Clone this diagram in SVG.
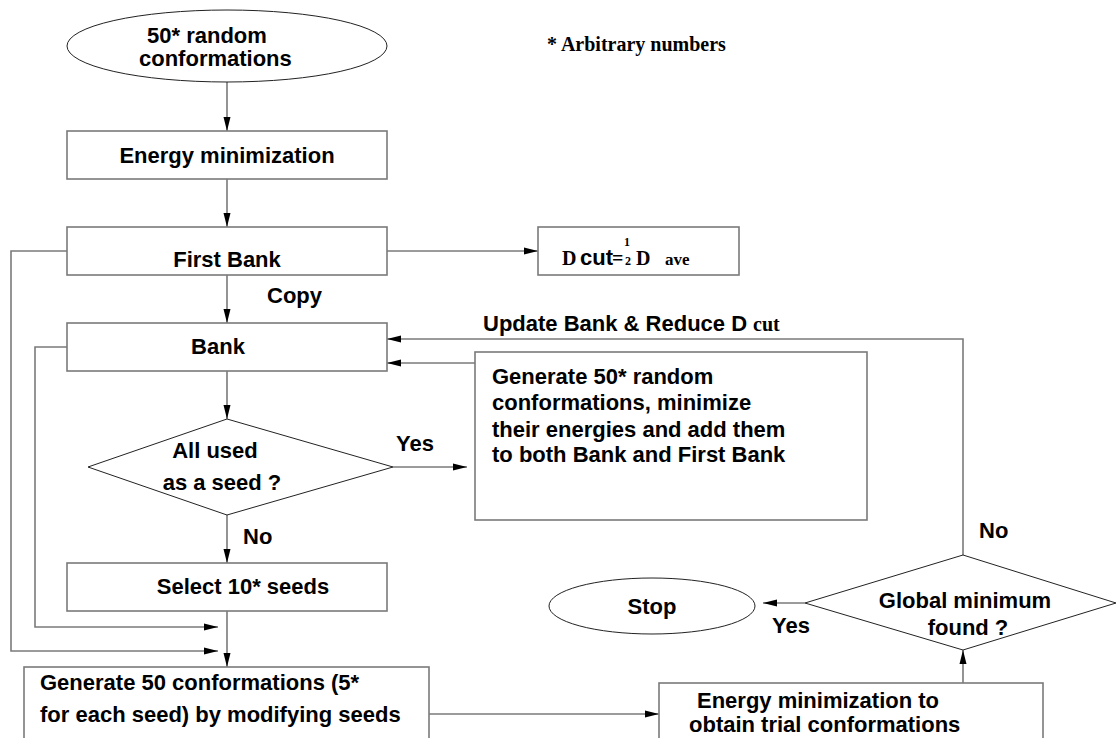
<svg xmlns="http://www.w3.org/2000/svg" width="1116" height="738" viewBox="0 0 1116 738">
<style>
.box{fill:#fff;stroke:#7a7a7a;stroke-width:1.6}
.shape{fill:#fff;stroke:#222;stroke-width:1}
.con{fill:none;stroke:#7a7a7a;stroke-width:1.6}
.t{font-family:"Liberation Sans",Arial,sans-serif;font-weight:bold;font-size:22px;fill:#000}
.s{font-family:"Liberation Serif","Times New Roman",serif;font-weight:bold;fill:#000}
</style>
<defs>
<marker id="ah" markerUnits="userSpaceOnUse" markerWidth="14" markerHeight="8" refX="14" refY="4" orient="auto">
<path d="M0,0.5 L14,4 L0,7.5 z" fill="#000"/>
</marker>
</defs>
<rect width="1116" height="738" fill="#fff"/>
<g id="connectors" class="con" marker-end="url(#ah)">
<path d="M227,82 V131"/>
<path d="M227,179 V227"/>
<path d="M227,275 V323"/>
<path d="M387,251 H538"/>
<path d="M227,371 V419"/>
<path d="M393,467 H467"/>
<path d="M227,515 V563"/>
<path d="M227,611 V667"/>
<path d="M67,251 H11 V651 H218"/>
<path d="M67,347 H35 V627 H218"/>
<path d="M429,714 H659"/>
<path d="M963,683 V650"/>
<path d="M805,603 H763"/>
<path d="M963,555 V339 H387"/>
<path d="M475,363 H387"/>
</g>
<g id="start">
<ellipse class="shape" cx="227" cy="46" rx="160" ry="36"/>
<text class="t" x="147" y="43">50* random</text>
<text class="t" x="139" y="66">conformations</text>
</g>
<g id="note"><text class="s" x="547" y="51" font-size="20">* Arbitrary numbers</text></g>
<g id="energy-min">
<rect class="box" x="67" y="131" width="320" height="48"/>
<text class="t" x="227" y="163" text-anchor="middle">Energy minimization</text>
</g>
<g id="first-bank">
<rect class="box" x="67" y="227" width="320" height="48"/>
<text class="t" x="227" y="267" text-anchor="middle">First Bank</text>
</g>
<g id="dcut">
<rect class="box" x="538" y="227" width="201" height="48"/>
<text x="562" y="265" class="s" font-size="20">D</text>
<text x="580" y="265" class="t" font-size="20">cut</text>
<text x="612" y="265" class="s" font-size="20">=</text>
<text x="624" y="246" class="s" font-size="12">1</text>
<text x="625" y="265" class="s" font-size="12">2</text>
<text x="636" y="265" class="s" font-size="20">D</text>
<text x="665" y="265" class="s" font-size="17">ave</text>
</g>
<g id="copy-label"><text class="t" x="267" y="303">Copy</text></g>
<g id="bank">
<rect class="box" x="67" y="323" width="320" height="48"/>
<text class="t" x="218" y="354" text-anchor="middle">Bank</text>
</g>
<g id="update-label">
<text class="t" x="483" y="331">Update Bank &amp; Reduce D</text>
<text class="s" x="753" y="331" font-size="20">cut</text>
</g>
<g id="generate-random">
<rect class="box" x="475" y="352" width="392" height="168"/>
<text class="t" x="492" y="384">Generate 50* random</text>
<text class="t" x="492" y="410">conformations, minimize</text>
<text class="t" x="492" y="437">their energies and add them</text>
<text class="t" x="492" y="462">to both Bank and First Bank</text>
</g>
<g id="all-used">
<polygon class="shape" points="227,419 393,467 227,515 88,467"/>
<text class="t" x="215" y="458" text-anchor="middle">All used</text>
<text class="t" x="222" y="490" text-anchor="middle">as a seed ?</text>
</g>
<g id="yes1"><text class="t" x="396" y="451">Yes</text></g>
<g id="no1"><text class="t" x="243" y="544">No</text></g>
<g id="select">
<rect class="box" x="67" y="563" width="320" height="48"/>
<text class="t" x="243" y="594" text-anchor="middle">Select 10* seeds</text>
</g>
<g id="generate-50">
<rect class="box" x="24" y="667" width="405" height="90"/>
<text class="t" x="40" y="690">Generate 50 conformations (5*</text>
<text class="t" x="40" y="722">for each seed) by modifying seeds</text>
</g>
<g id="energy-trial">
<rect class="box" x="659" y="683" width="384" height="80"/>
<text class="t" x="697" y="708" font-size="21">Energy minimization to</text>
<text class="t" x="689" y="732" font-size="21">obtain trial conformations</text>
</g>
<g id="global-min">
<polygon class="shape" points="963,555 1116,603 963,650 805,603"/>
<text class="t" x="965" y="608" text-anchor="middle">Global minimum</text>
<text class="t" x="968" y="635" text-anchor="middle">found ?</text>
</g>
<g id="no2"><text class="t" x="979" y="538">No</text></g>
<g id="yes2"><text class="t" x="772" y="633">Yes</text></g>
<g id="stop">
<ellipse class="shape" cx="652" cy="606" rx="103" ry="28"/>
<text class="t" x="652" y="614" text-anchor="middle">Stop</text>
</g>
</svg>
